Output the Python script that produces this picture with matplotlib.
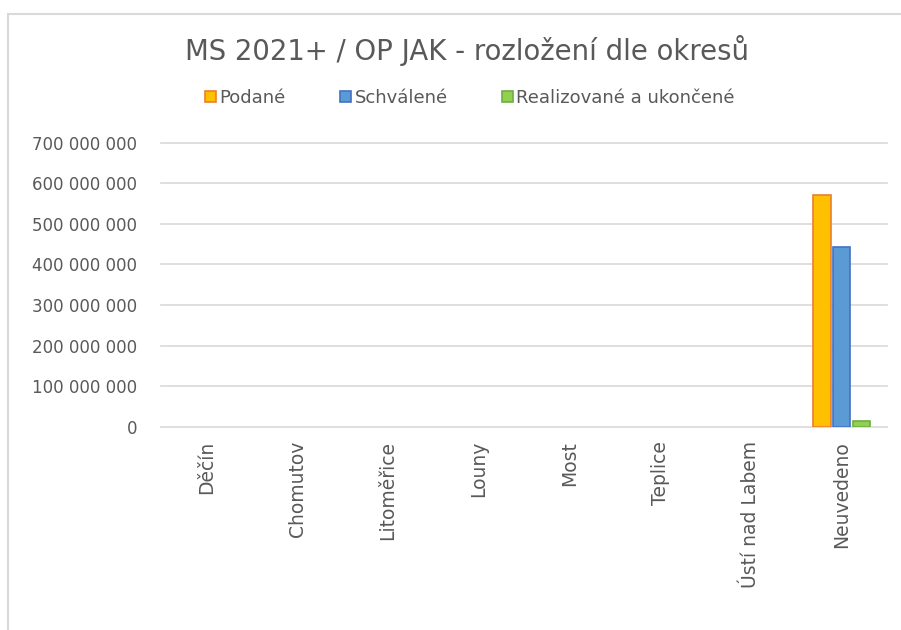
import matplotlib.pyplot as plt
import matplotlib.ticker as mticker
import numpy as np
from matplotlib.patches import Rectangle

plt.rcParams['font.family'] = ['DejaVu Sans']

okresy = ['Děčín', 'Chomutov', 'Litoměřice', 'Louny', 'Most', 'Teplice',
          'Ústí nad Labem', 'Neuvedeno']
podane = [0, 0, 0, 0, 0, 0, 0, 570e6]
schvalene = [0, 0, 0, 0, 0, 0, 0, 443e6]
realizovane = [0, 0, 0, 0, 0, 0, 0, 15e6]
serie = ['Podané', 'Schválené', 'Realizované a ukončené']

fills = ['#FFC000', '#5B9BD5', '#92D050']
edges = ['#ED7D31', '#4472C4', '#70AD47']
text_col = '#595959'

fig = plt.figure(figsize=(9.01, 6.30), dpi=100)
ax = fig.add_axes([161 / 901, 1 - 427 / 630, (887 - 161) / 901, (427 - 142.5) / 630])

x = np.arange(len(okresy))
w = 0.19
step = 0.215
for i, (vals, name) in enumerate(zip([podane, schvalene, realizovane], serie)):
    # excel does not outline empty bars
    lw = [1.2 if v > 0 else 0 for v in vals]
    ax.bar(x + (i - 1) * step, vals, width=w, color=fills[i], edgecolor=edges[i],
           linewidth=lw, label=name, zorder=3)

ax.set_xlim(-0.5, len(okresy) - 0.5)
ax.set_ylim(0, 700e6)
ax.set_yticks(np.arange(0, 700e6 + 1, 100e6))
ax.yaxis.set_major_formatter(mticker.FuncFormatter(lambda v, p: f'{int(v):,}'.replace(',', ' ')))
ax.grid(axis='y', color='#d9d9d9', linewidth=1.2, zorder=0)
for gl in ax.get_ygridlines():
    gl.set_clip_on(False)
ax.set_axisbelow(True)
for s in ax.spines.values():
    s.set_visible(False)
ax.tick_params(axis='y', length=0, pad=17, labelsize=12, labelcolor=text_col)
ax.tick_params(axis='x', length=0, pad=10, labelsize=13.5, labelcolor=text_col)
ax.set_xticks(x)
ax.set_xticklabels(okresy, rotation=90, va='top', ha='center')

fig.text(467 / 901, 1 - 50 / 630, 'MS 2021+ / OP JAK - rozložení dle okresů',
         ha='center', va='center', fontsize=19.8, color=text_col)

leg = fig.legend(loc='center', bbox_to_anchor=(470 / 901, 1 - 98 / 630), ncol=3, frameon=False,
                 fontsize=13, handlelength=0.6, handleheight=0.6, handletextpad=0.2,
                 columnspacing=3.0, labelcolor=text_col)
for h in leg.legend_handles:
    h.set_linewidth(1.2)

fig.patches.append(Rectangle((8 / 901, -0.1), 1.2, 1 - 13.5 / 630 + 0.1, transform=fig.transFigure,
                             fill=False, edgecolor='#d9d9d9', linewidth=1.5))

fig.savefig('out.png', dpi=100)
